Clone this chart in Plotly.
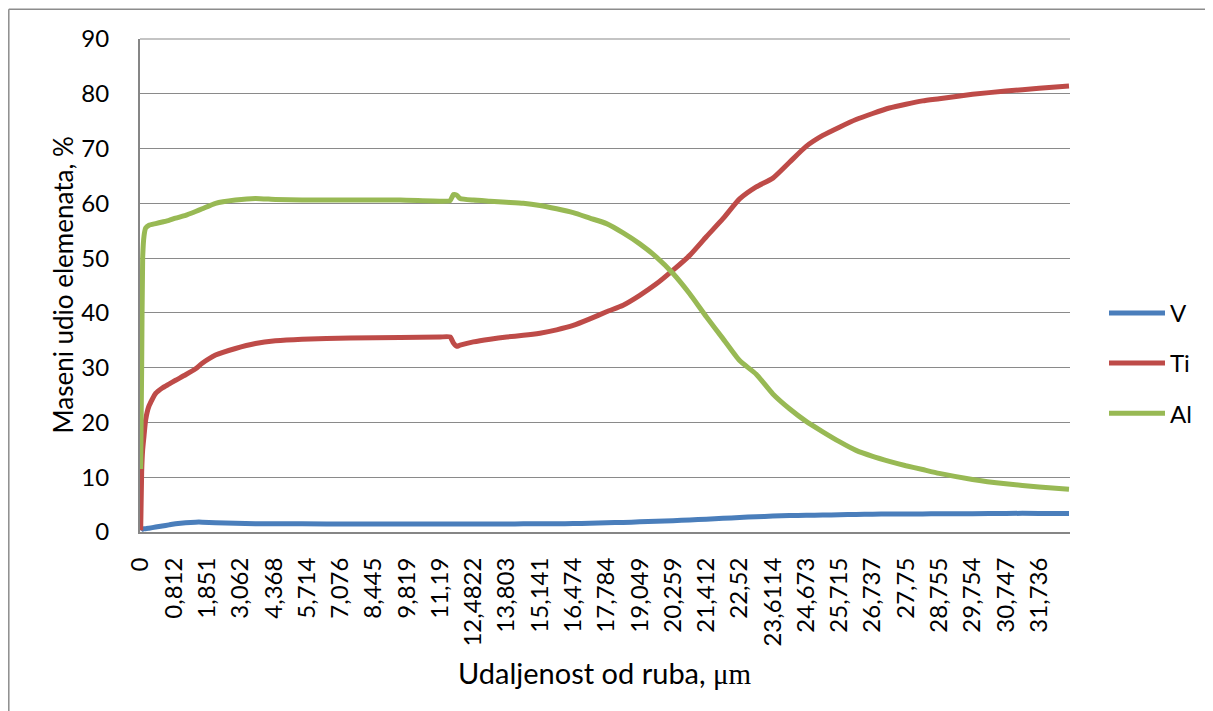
import plotly.graph_objects as go

# x positions in units of the category-axis label spacing (label i sits at i)
pos = [0, 0.03, 0.06, 0.1, 0.15, 0.25, 0.45, 0.65, 0.85, 1.05, 1.35, 1.65, 1.85, 2.25,
       2.85, 3.45, 4.05, 4.85, 6.3, 7.8, 9.0, 9.3, 9.4, 9.5, 9.6, 10.0, 10.5, 11.0, 11.5,
       12.0, 12.5, 13.0, 13.5, 14.0, 14.5, 15.0, 15.5, 16.0, 16.5, 17.0, 17.5, 18.0, 18.5,
       19.0, 19.5, 20.0, 20.5, 21.0, 21.5, 22.0, 22.5, 23.0, 23.5, 24.0, 25.0, 26.0, 27.0, 27.9]

al = [11.5, 30, 50, 54, 55.5, 56, 56.3, 56.6, 56.9, 57.3, 57.8, 58.5, 59, 60,
      60.6, 60.9, 60.7, 60.6, 60.6, 60.6, 60.4, 60.5, 61.6, 61.5, 60.9, 60.6, 60.4, 60.2, 60.0,
      59.6, 59.0, 58.3, 57.3, 56.3, 54.6, 52.6, 50.2, 47.2, 43.5, 39.3, 35.3, 31.3, 28.8,
      25.2, 22.5, 20.2, 18.3, 16.5, 14.9, 13.8, 12.9, 12.1, 11.4, 10.7, 9.6, 8.8, 8.2, 7.8]

ti = [0.3, 11, 15, 17.5, 20.5, 23, 25.3, 26.3, 27, 27.7, 28.7, 29.8, 30.8, 32.3,
      33.5, 34.4, 34.9, 35.2, 35.4, 35.5, 35.6, 35.6, 34.5, 33.9, 34.1, 34.7, 35.2, 35.6, 35.9,
      36.3, 36.9, 37.7, 38.9, 40.2, 41.4, 43.2, 45.3, 47.8, 50.5, 53.9, 57.2, 60.8, 63.0,
      64.6, 67.5, 70.4, 72.4, 73.9, 75.3, 76.4, 77.4, 78.1, 78.7, 79.1, 79.9, 80.5, 81.0, 81.4]

v = [0.3, 0.5, 0.5, 0.6, 0.6, 0.7, 0.9, 1.1, 1.3, 1.5, 1.7, 1.8, 1.8, 1.7,
     1.6, 1.5, 1.5, 1.5, 1.45, 1.45, 1.45, 1.45, 1.45, 1.45, 1.45, 1.45, 1.45, 1.45, 1.5,
     1.5, 1.5, 1.55, 1.6, 1.7, 1.75, 1.85, 1.95, 2.05, 2.2, 2.35, 2.5, 2.65, 2.8,
     2.9, 3.0, 3.05, 3.1, 3.15, 3.2, 3.25, 3.3, 3.3, 3.3, 3.35, 3.35, 3.4, 3.4, 3.4]

tick_labels = ["0", "0,812", "1,851", "3,062", "4,368", "5,714", "7,076", "8,445", "9,819",
               "11,19", "12,4822", "13,803", "15,141", "16,474", "17,784", "19,049", "20,259",
               "21,412", "22,52", "23,6114", "24,673", "25,715", "26,737", "27,75", "28,755",
               "29,754", "30,747", "31,736"]

series = [("V", v, "#4A7EBB"), ("Ti", ti, "#BE4B48"), ("Al", al, "#98B954")]

FONT = "Lato, 'Noto Sans', sans-serif"
OFF = 8  # page body margin
W, H = 1213 - OFF, 711 - OFF
L, R, T, B = 140 - OFF, 1070 - OFF, 38.7 - OFF, 531.7 - OFF
pw, ph = R - L, B - T

fig = go.Figure()
for name, ys, col in series:
    fig.add_trace(go.Scatter(x=pos, y=ys, mode="lines", name=name, legendgroup=name,
                             line=dict(color=col, width=5, shape="spline", smoothing=0.5)))

fig.update_layout(
    width=W, height=H,
    margin=dict(l=L, r=W - R, t=T, b=H - B, pad=0),
    paper_bgcolor="white", plot_bgcolor="white",
    font=dict(family=FONT, color="black", size=24),
    showlegend=True,
    legend=dict(x=(1097 - OFF - L + 7) / pw, xanchor="left", y=(B - (363 - OFF)) / ph,
                yanchor="middle", font=dict(size=24), itemwidth=56, tracegroupgap=16,
                bgcolor="rgba(0,0,0,0)"),
    xaxis=dict(range=[-0.02, 27.93], tickmode="array", tickvals=list(range(len(tick_labels))),
               ticktext=tick_labels, tickangle=-90, showgrid=False, zeroline=False,
               showline=True, linecolor="#868686", linewidth=2, ticks="",
               ticklabelstandoff=14, tickfont=dict(size=24)),
    yaxis=dict(range=[0, 90], dtick=10, showgrid=True, gridcolor="#8A8A8A", gridwidth=1.2,
               zeroline=False, showline=True, linecolor="#868686", linewidth=2, ticks="",
               ticklabelstandoff=24, tickfont=dict(size=24)),
    shapes=[
        dict(type="line", xref="paper", yref="paper", x0=(0.8 - L) / pw, x1=(0.8 - L) / pw,
             y0=(B - 1) / ph, y1=(B - 730) / ph, line=dict(color="#8C8C8C", width=1.5)),
        dict(type="line", xref="paper", yref="paper", x0=(0.8 - L) / pw, x1=(1230 - L) / pw,
             y0=(B - 1) / ph, y1=(B - 1) / ph, line=dict(color="#8C8C8C", width=1.5)),
        dict(type="line", xref="paper", yref="paper", x0=0, x1=1, y0=1, y1=1,
             line=dict(color="#8A8A8A", width=1.2)),
    ],
    annotations=[
        dict(text="Maseni udio elemenata, %", textangle=-90, xref="paper", yref="paper",
             x=(62 - OFF - L) / pw, y=0.5, showarrow=False, xanchor="center",
             yanchor="middle", font=dict(size=26)),
        dict(text="Udaljenost od ruba, <span style=\"font-family:'Liberation Serif', serif\">μm</span>",
             xref="paper", yref="paper", x=0.5, y=(B - (672 - OFF)) / ph, showarrow=False,
             xanchor="center", yanchor="middle", font=dict(size=29)),
    ],
)

fig.write_html("out.html")
